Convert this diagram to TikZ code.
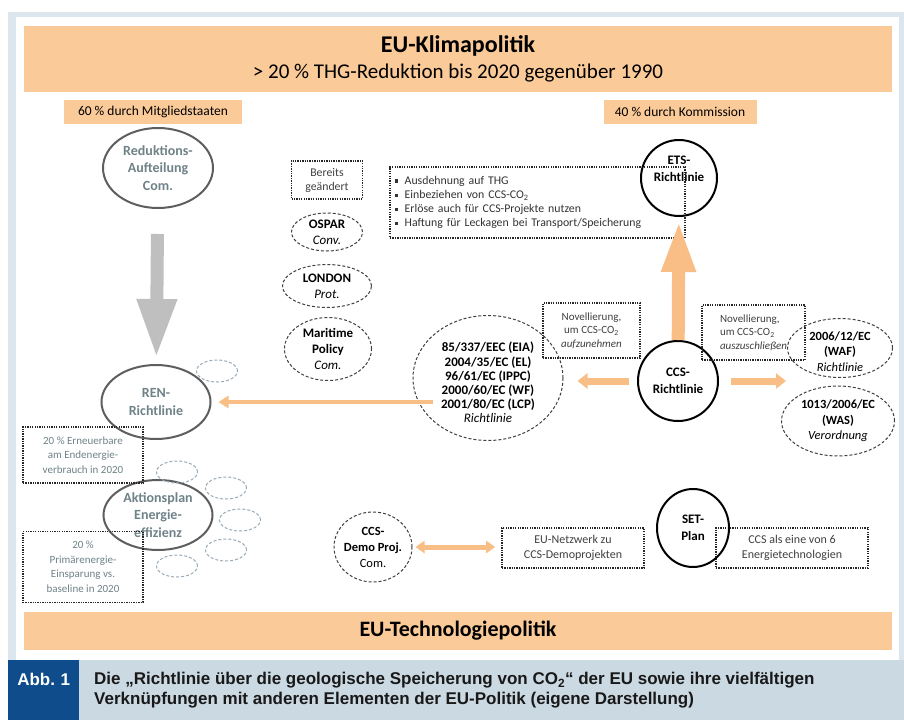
\documentclass[tikz,border=0pt]{standalone}
\usepackage{fontspec}
\setmainfont{Carlito}
\newfontfamily\capfont{Liberation Sans}
\usetikzlibrary{arrows.meta,positioning,shapes.geometric}

\definecolor{barorange}{HTML}{FBCA99}
\definecolor{floworange}{HTML}{F9BD86}
\definecolor{frameblue}{HTML}{DCE6EE}
\definecolor{capgrey}{HTML}{CBD9E2}
\definecolor{abbblue}{HTML}{0E4C8C}
\definecolor{fadetext}{HTML}{6F8288}
\definecolor{rimgrey}{HTML}{5E5E5E}
\definecolor{cloudblue}{HTML}{9AABB8}
\definecolor{bigarrow}{HTML}{BFBFBF}

\newcommand{\fsz}[2]{\fontsize{#1}{#2}\selectfont}
\newcommand{\sqbul}{\raisebox{1.7pt}{\rule{3.2pt}{3.2pt}}\hspace{6.5pt}}

\begin{document}
\begin{tikzpicture}[x=1pt, y=-1pt,
    bar/.style={rectangle, fill=barorange, minimum width=868pt,
                inner sep=0pt, align=center},
    tag/.style={rectangle, fill=barorange, minimum height=24pt,
                inner sep=0pt, font=\fsz{13.5}{16}},
    memberell/.style={ellipse, draw=rimgrey, line width=2pt, text=fadetext,
                inner sep=-12pt, align=center, font=\fsz{14}{17.5}\bfseries},
    cloud/.style={ellipse, draw=cloudblue, line width=1pt,
                dash pattern=on 3pt off 2pt, minimum width=41pt, minimum height=22pt},
    core/.style={circle, draw=black, line width=2pt, inner sep=-12pt,
                align=center, font=\fsz{13}{17}\bfseries},
    linked/.style={ellipse, draw=black!75, line width=1pt,
                dash pattern=on 3pt off 2pt, inner sep=-12pt,
                align=center, font=\fsz{13}{16}},
    note/.style={rectangle, draw=black!85, line width=1.6pt,
                dash pattern=on 1.3pt off 1.1pt, inner sep=2pt,
                align=center, text=black!75, font=\fsz{11}{13.5}},
    flow/.style={draw=floworange, line width=7pt, -{Triangle[width=15pt,length=10pt]}},
    thinflow/.style={draw=floworange, line width=4.5pt, -{Triangle[width=12pt,length=10pt]}},
    bigdown/.style={draw=bigarrow, line width=13pt, -{Triangle[width=37pt,length=59pt]}},
    bigup/.style={draw=floworange, line width=13pt, -{Triangle[width=31pt,length=52pt]}},
]
\useasboundingbox (0,0) rectangle (904,720);
\fill[white] (0,0) rectangle (904,720);
\fill[frameblue] (8,12) rectangle (904,660);
\fill[white] (16,17) rectangle (899,660);

% policy bars
\node[bar, minimum height=66pt] (klima) at (458,59)
    {{\fsz{24}{28}\bfseries EU-Klimapolitik}\\[6pt]
     {\fsz{21}{25}> 20 \% THG-Reduktion bis 2020 gegenüber 1990}};
\node[bar, minimum height=38pt] (techno) at (458,631)
    {\fsz{22}{26}\bfseries EU-Technologiepolitik};

\node[tag, minimum width=178pt] (member) at (153,112) {60 \% durch Mitgliedstaaten};
\node[tag, minimum width=153pt] (commission) at (680,112) {40 \% durch Kommission};

% member states
\node[memberell, minimum width=110pt, minimum height=80pt] (reduk) at (158,168)
    {Reduktions-\\Aufteilung\\Com.};
\node[memberell, minimum width=109pt, minimum height=74pt] (ren) at (156,402)
    {REN-\\Richtlinie};
\node[memberell, minimum width=109pt, minimum height=70pt] (aktion) at (158,515)
    {Aktionsplan\\Energie-\\effizienz};

\foreach \cx/\cy [count=\i] in {217/371, 177/472, 226/488, 240/520, 226/550, 177/566}
    \node[cloud] (cloud\i) at (\cx,\cy) {};

\node[note, text=fadetext, minimum width=120pt, minimum height=56pt,
      font=\fsz{11}{14.5}] (renquota) at (83,455)
    {20 \% Erneuerbare\\am Endenergie-\\verbrauch in 2020};
\node[note, text=fadetext, minimum width=120pt, minimum height=71pt,
      font=\fsz{11}{14.5}] (effquota) at (83,567)
    {20 \%\\Primärenergie-\\Einsparung vs.\\baseline in 2020};

% conventions
\node[note, minimum width=71pt, minimum height=38pt, font=\fsz{11.8}{14}] (bereits) at (327,180)
    {Bereits\\geändert};
\node[linked, minimum width=71pt, minimum height=38pt] (ospar) at (327,232)
    {\textbf{OSPAR}\\\textit{Conv.}};
\node[linked, minimum width=89pt, minimum height=43pt] (london) at (327,286)
    {\textbf{LONDON}\\\textit{Prot.}};
\node[linked, minimum width=87pt, minimum height=63pt] (maritime) at (328,349)
    {\textbf{Maritime}\\\textbf{Policy}\\\textit{Com.}};

% commission
\node[note, text=black!80, align=left, text width=285pt, minimum height=71pt,
      inner xsep=5pt, font=\fsz{11.8}{14.2}] (etsnote) at (537.5,202.5)
    {\sqbul Ausdehnung auf THG\\\sqbul Einbeziehen von CCS-CO\textsubscript{2}\\\sqbul Erlöse auch für CCS-Projekte nutzen\\\sqbul Haftung für Leckagen bei Transport/Speicherung};
\node[core, minimum size=76pt, text depth=19pt] (ets) at (679,178) {ETS-\\Richtlinie};
\node[core, minimum size=80pt] (ccs) at (678,381) {CCS-\\Richtlinie};

\node[note, minimum width=97pt, minimum height=55pt] (novin) at (591.5,330.5)
    {Novellierung,\\um CCS-CO\textsubscript{2}\\\textit{aufzunehmen}};
\node[note, align=left, minimum width=103pt, minimum height=55pt] (novout) at (753.5,332.5)
    {Novellierung,\\um CCS-CO\textsubscript{2}\\\textit{auszuschließen}};

\node[linked, minimum width=150pt, minimum height=125pt, text height=90pt,
      font=\fsz{13}{14.2}\bfseries] (eia) at (488,378)
    {85/337/EEC (EIA)\\2004/35/EC (EL)\\96/61/EC (IPPC)\\2000/60/EC (WF)\\2001/80/EC (LCP)\\{\mdseries\itshape Richtlinie}};
\node[linked, minimum width=105pt, minimum height=59pt, text height=47pt,
      font=\fsz{12.5}{15.5}] (waf) at (840,348)
    {\textbf{2006/12/EC}\\\textbf{(WAF)}\\\textit{Richtlinie}};
\node[linked, minimum width=113pt, minimum height=70pt, font=\fsz{12.5}{15.5}] (was) at (838,421)
    {\textbf{1013/2006/EC}\\\textbf{(WAS)}\\\textit{Verordnung}};

% technology
\node[linked, minimum width=78pt, minimum height=70pt, font=\fsz{12.5}{16}\bfseries] (demo) at (373,547)
    {CCS-\\Demo Proj.\\{\mdseries Com.}};
\node[note, minimum width=142pt, minimum height=40pt, font=\fsz{12}{14.5}] (netz) at (573,548)
    {EU-Netzwerk zu\\CCS-Demoprojekten};
\node[note, minimum width=152pt, minimum height=40pt, font=\fsz{12}{14.5}] (sixtech) at (792,548)
    {CCS als eine von 6\\Energietechnologien};
\node[core, ellipse, minimum width=72pt, minimum height=78pt] (setplan) at (693,528) {SET-\\Plan};

% arrows
\draw[bigdown, shorten <=25pt, shorten >=6pt] (reduk) -- (ren);
\draw[bigup, shorten >=3pt] (ccs) -- (ets);
\draw[flow, shorten <=8pt, shorten >=14pt] (ccs.west) -- (ccs.west -| eia.east);
\draw[flow, shorten <=12pt, shorten >=1pt] (ccs.east) -- (ccs.east -| waf.west);
\draw[thinflow, shorten >=7pt] ([xshift=20pt]eia.west |- ren.east) -- (ren.east);
\draw[flow, line width=5pt, {Triangle[width=12pt,length=9pt]}-{Triangle[width=12pt,length=9pt]},
      shorten <=3pt, shorten >=6pt] (demo.east) -- (demo.east -| netz.west);

% caption
\node[rectangle, fill=capgrey, minimum width=896pt, minimum height=60pt,
      inner sep=0pt, anchor=north west] (capband) at (8,660) {};
\node[rectangle, fill=abbblue, text=white, minimum width=71pt, inner xsep=0pt,
      inner ysep=5pt, text height=20pt, text depth=30pt, anchor=north west,
      font=\capfont\bfseries\fsz{17}{20}] (abb) at (8,660) {Abb.\,\,1};
\node[anchor=west, align=left, text=black!90, inner sep=0pt,
      font=\capfont\bfseries\fsz{17}{19.5}] (captext) at (94,690)
    {Die „Richtlinie über die geologische Speicherung von CO\textsubscript{2}“ der EU sowie ihre vielfältigen\\
     Verknüpfungen mit anderen Elementen der EU-Politik (eigene Darstellung)};
\end{tikzpicture}
\end{document}
